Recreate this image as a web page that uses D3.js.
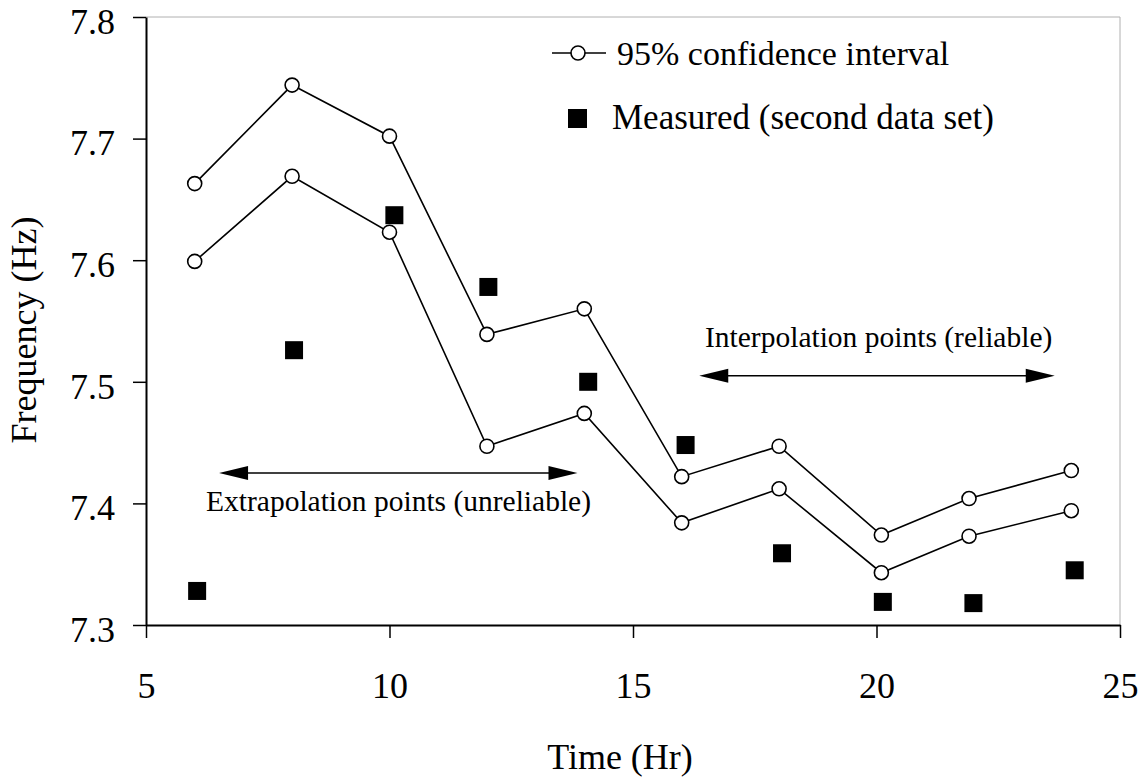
<!DOCTYPE html>
<html>
<head>
<meta charset="utf-8">
<script src="https://cdn.jsdelivr.net/npm/d3@7"></script>
<style>
  body { margin: 0; background: #fff; }
  svg { display: block; }
  svg text { font-family: "Liberation Serif", "Times New Roman", Times, serif; }
</style>
</head>
<body>
<svg id="chart"></svg>
<script>
// confidence interval bounds (hours, Hz)
var ciHours = [6, 8, 10, 12, 14, 16, 18, 20.1, 21.9, 24];
var ciUpper = [7.663, 7.744, 7.702, 7.539, 7.560, 7.422, 7.447, 7.374, 7.404, 7.427];
var ciLower = [7.599, 7.669, 7.623, 7.447, 7.474, 7.384, 7.412, 7.343, 7.373, 7.394];

// measured second data set
var measHours = [6.05, 8.04, 10.1, 12.03, 14.08, 16.08, 18.06, 20.13, 21.99, 24.07];
var measFreq  = [7.328, 7.526, 7.637, 7.578, 7.500, 7.448, 7.359, 7.319, 7.318, 7.345];

var xTicks = [5, 10, 15, 20, 25];
var yTicks = [7.3, 7.4, 7.5, 7.6, 7.7, 7.8];

// annotation arrows: [from hr, to hr, at Hz]
var extrapArrow = [6.5, 13.86, 7.425];
var interpArrow = [16.36, 23.66, 7.505];

const W = 1148, H = 782;
const margin = {top: 17, right: 28, bottom: 157, left: 146};
const serif = '"Liberation Serif", "Times New Roman", Times, serif';

const svg = d3.select("#chart").attr("width", W).attr("height", H);

const x = d3.scaleLinear().domain([5, 25]).range([margin.left, W - margin.right]);
const y = d3.scaleLinear().domain([7.3, 7.8]).range([H - margin.bottom, margin.top]);

// faint frame top/right
svg.append("path")
    .attr("d", `M${x(5)},${y(7.8)}H${x(25)}V${y(7.3)}`)
    .attr("fill", "none").attr("stroke", "#b0b0b0").attr("stroke-width", 1);

// axes
const xAxis = svg.append("g")
    .attr("transform", `translate(0,${y(7.3)})`)
    .call(d3.axisBottom(x).tickValues(xTicks).tickSize(13).tickPadding(34).tickSizeOuter(0));
const yAxis = svg.append("g")
    .attr("transform", `translate(${x(5)},0)`)
    .call(d3.axisLeft(y).tickValues(yTicks).tickFormat(d3.format(".1f")).tickSize(13).tickPadding(18).tickSizeOuter(0));

[xAxis, yAxis].forEach(function(a){
    a.attr("font-family", serif).attr("font-size", 36);
    a.select(".domain").attr("stroke", "#000").attr("stroke-width", 2);
    a.selectAll(".tick line").attr("stroke", "#000").attr("stroke-width", 1.5);
    a.selectAll(".tick text").attr("fill", "#000");
});
yAxis.selectAll(".tick text").attr("dy", "0.45em");

// axis titles
svg.append("text")
    .attr("x", x(15) - 13).attr("y", 769)
    .attr("text-anchor", "middle").attr("font-size", 36)
    .text("Time (Hr)");
svg.append("text")
    .attr("transform", `translate(36,${(y(7.3) + y(7.8)) / 2 + 9}) rotate(-90)`)
    .attr("text-anchor", "middle").attr("font-size", 36)
    .text("Frequency (Hz)");

// CI lines
const line = d3.line().x(d => x(d[0])).y(d => y(d[1]));
[ciUpper, ciLower].forEach(function(series){
    var pts = ciHours.map((h, i) => [h, series[i]]);
    svg.append("path").datum(pts)
        .attr("d", line).attr("fill", "none")
        .attr("stroke", "#000").attr("stroke-width", 1.6);
    svg.append("g").selectAll("circle").data(pts).enter().append("circle")
        .attr("cx", d => x(d[0])).attr("cy", d => y(d[1])).attr("r", 7)
        .attr("fill", "#fff").attr("stroke", "#000").attr("stroke-width", 1.6);
});

// measured squares
const sq = 18;
svg.append("g").selectAll("rect").data(measHours).enter().append("rect")
    .attr("x", (d, i) => x(d) - sq / 2)
    .attr("y", (d, i) => y(measFreq[i]) - sq / 2)
    .attr("width", sq).attr("height", sq).attr("fill", "#000");

// double-headed arrow helper
function arrow(a, len, hw) {
    var x1 = x(a[0]), x2 = x(a[1]), yy = y(a[2]);
    svg.append("line").attr("x1", x1 + len - 2).attr("x2", x2 - len + 2)
        .attr("y1", yy).attr("y2", yy).attr("stroke", "#000").attr("stroke-width", 1.6);
    svg.append("path").attr("d", `M${x1},${yy}L${x1 + len},${yy - hw}L${x1 + len},${yy + hw}Z`).attr("fill", "#000");
    svg.append("path").attr("d", `M${x2},${yy}L${x2 - len},${yy - hw}L${x2 - len},${yy + hw}Z`).attr("fill", "#000");
}
arrow(extrapArrow, 29, 7);
arrow(interpArrow, 29, 7);

svg.append("text").attr("x", 206).attr("y", 511).attr("font-size", 29.5)
    .text("Extrapolation points (unreliable)");
svg.append("text").attr("x", 705).attr("y", 347).attr("font-size", 29.5)
    .text("Interpolation points (reliable)");

// legend
const lg = svg.append("g");
lg.append("line").attr("x1", 552).attr("x2", 606).attr("y1", 53).attr("y2", 53)
    .attr("stroke", "#000").attr("stroke-width", 1.6);
lg.append("circle").attr("cx", 578).attr("cy", 53).attr("r", 7)
    .attr("fill", "#fff").attr("stroke", "#000").attr("stroke-width", 1.6);
lg.append("text").attr("x", 617).attr("y", 65).attr("font-size", 34)
    .text("95% confidence interval");
lg.append("rect").attr("x", 568).attr("y", 109).attr("width", 19).attr("height", 19).attr("fill", "#000");
lg.append("text").attr("x", 612).attr("y", 129).attr("font-size", 35)
    .text("Measured (second data set)");
</script>
</body>
</html>
